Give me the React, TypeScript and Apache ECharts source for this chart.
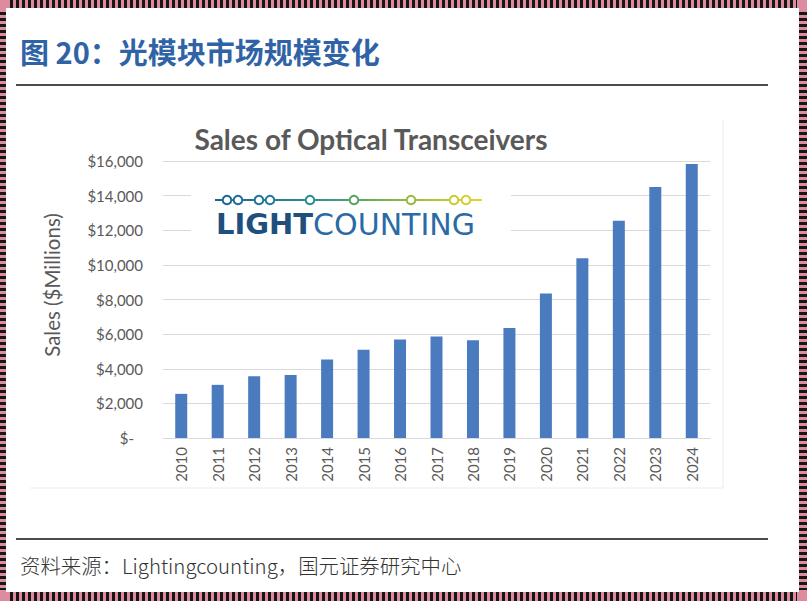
import React, { useEffect, useRef } from "react";
import * as echarts from "echarts";

const years = ["2010","2011","2012","2013","2014","2015","2016","2017","2018","2019","2020","2021","2022","2023","2024"];
const sales = [2550, 3070, 3570, 3640, 4530, 5100, 5690, 5870, 5650, 6350, 8350, 10380, 12550, 14500, 15820];
const yTicks = [0, 2000, 4000, 6000, 8000, 10000, 12000, 14000, 16000];

const headerTitle = "图 20：光模块市场规模变化";
const chartTitle = "Sales of Optical Transceivers";
const yAxisName = "Sales ($Millions)";
const sourceText = "资料来源：Lightingcounting，国元证券研究中心";

const logoDots = [227, 238, 259, 270, 310, 354, 411, 454, 466];

function lerpColor(t: number): string {
  const stops: [number, number[]][] = [
    [0, [27, 100, 150]],
    [0.35, [40, 140, 150]],
    [0.6, [110, 175, 80]],
    [1, [230, 214, 40]],
  ];
  for (let i = 0; i < stops.length - 1; i++) {
    const [a, ca] = stops[i];
    const [b, cb] = stops[i + 1];
    if (t >= a && t <= b) {
      const k = (t - a) / (b - a);
      const c = ca.map((v, j) => Math.round(v + (cb[j] - v) * k));
      return `rgb(${c[0]},${c[1]},${c[2]})`;
    }
  }
  return "rgb(230,214,40)";
}

export default function App() {
  const ref = useRef<HTMLDivElement>(null);
  useEffect(() => {
    if (!ref.current) return;
    const chart = echarts.init(ref.current, null, { renderer: "svg" });
    const pink = "#dd8ca0";
    const dark = "#161616";
    const lineX0 = 215, lineX1 = 482;
    const dots = logoDots.map((x) => ({
      type: "circle",
      z: 21,
      shape: { cx: x, cy: 200, r: 4.3 },
      style: { fill: "#fff", stroke: lerpColor((x - lineX0) / (lineX1 - lineX0)), lineWidth: 2 },
    }));
    chart.setOption({
      animation: false,
      backgroundColor: "#fff",
      title: {
        text: chartTitle,
        left: 366,
        top: 120,
        textAlign: "center",
        textStyle: { fontFamily: "Lato", fontWeight: "bold", fontSize: 28, color: "#595959" },
      },
      grid: { left: 163, right: 97, top: 161, bottom: 163 },
      xAxis: {
        type: "category",
        data: years,
        axisLine: { show: true, lineStyle: { color: "#d9d9d9" } },
        axisTick: { show: false },
        axisLabel: { rotate: 90, margin: 9, fontFamily: "Lato", fontSize: 15, color: "#595959" },
      },
      yAxis: {
        type: "value",
        min: 0,
        max: 16000,
        interval: 2000,
        axisLine: { show: false },
        axisTick: { show: false },
        splitLine: { lineStyle: { color: "#d9d9d9", width: 1 } },
        axisLabel: {
          margin: 20,
          fontFamily: "Lato",
          fontSize: 15,
          color: "#595959",
          formatter: (v: number) =>
            yTicks.indexOf(v) === 0 ? "{z|$-}" : "$" + v.toLocaleString("en-US"),
          rich: { z: { fontFamily: "Lato", fontSize: 15, color: "#595959", padding: [0, 9, 0, 0] } },
        },
      },
      series: [
        {
          type: "bar",
          data: sales,
          barWidth: 12,
          itemStyle: { color: "#4a7bbf" },
        },
      ],
      graphic: [
        // y axis name
        {
          type: "text",
          z: 5,
          x: 52,
          y: 285,
          rotation: Math.PI / 2,
          style: {
            text: yAxisName,
            align: "center",
            verticalAlign: "middle",
            fill: "#595959",
            font: "20.5px Lato",
          },
        },
        // frame of the inner chart image
        { type: "line", z: 1, shape: { x1: 723, y1: 120, x2: 723, y2: 488 }, style: { stroke: "#ececec", lineWidth: 1 } },
        { type: "line", z: 1, shape: { x1: 30, y1: 488, x2: 723, y2: 488 }, style: { stroke: "#ececec", lineWidth: 1 } },
        // logo white background
        { type: "rect", z: 19, shape: { x: 191, y: 182, width: 320, height: 62 }, style: { fill: "#fff" } },
        {
          type: "rect",
          z: 20,
          shape: { x: lineX0, y: 199, width: lineX1 - lineX0, height: 2 },
          style: {
            fill: new echarts.graphic.LinearGradient(0, 0, 1, 0, [
              { offset: 0, color: lerpColor(0) },
              { offset: 0.35, color: lerpColor(0.35) },
              { offset: 0.6, color: lerpColor(0.6) },
              { offset: 1, color: lerpColor(1) },
            ]),
          },
        },
        ...dots,
        {
          type: "text",
          z: 21,
          x: 216,
          y: 224,
          style: {
            text: "{a|LIGHT}{b|COUNTING}",
            verticalAlign: "middle",
            rich: {
              a: { fontFamily: "DejaVu Sans", fontWeight: "bold", fontSize: 29, fill: "#1f4f7d", color: "#1f4f7d" },
              b: { fontFamily: "DejaVu Sans", fontWeight: "normal", fontSize: 30, fill: "#2a6aa6", color: "#2a6aa6" },
            },
          },
        },
        // header
        {
          type: "text",
          z: 30,
          x: 20,
          y: 51,
          style: {
            text: headerTitle,
            verticalAlign: "middle",
            fill: "#2f63a6",
            font: "bold 29px 'Noto Sans CJK SC'",
          },
        },
        { type: "line", z: 30, shape: { x1: 16, y1: 85, x2: 768, y2: 85 }, style: { stroke: "#111", lineWidth: 1.5 } },
        { type: "line", z: 30, shape: { x1: 16, y1: 539, x2: 768, y2: 539 }, style: { stroke: "#111", lineWidth: 1.5 } },
        {
          type: "text",
          z: 30,
          x: 20,
          y: 565,
          style: {
            text: sourceText,
            verticalAlign: "middle",
            fill: "#333",
            font: "300 20.4px 'Noto Sans CJK SC'",
          },
        },
        // decorative border
        { type: "rect", z: 40, shape: { x: 0, y: 0, width: 807, height: 8 }, style: { fill: pink } },
        { type: "rect", z: 40, shape: { x: 0, y: 592, width: 807, height: 9 }, style: { fill: pink } },
        { type: "rect", z: 40, shape: { x: 0, y: 0, width: 6, height: 601 }, style: { fill: pink } },
        { type: "rect", z: 40, shape: { x: 799, y: 0, width: 8, height: 601 }, style: { fill: pink } },
        { type: "line", z: 41, shape: { x1: 10, y1: 4, x2: 797, y2: 4 }, style: { stroke: dark, lineWidth: 8, lineDash: [3, 3] } },
        { type: "line", z: 41, shape: { x1: 10, y1: 596.5, x2: 797, y2: 596.5 }, style: { stroke: dark, lineWidth: 9, lineDash: [3, 3] } },
        { type: "line", z: 41, shape: { x1: 3, y1: 12, x2: 3, y2: 590 }, style: { stroke: dark, lineWidth: 6, lineDash: [3, 3] } },
        { type: "line", z: 41, shape: { x1: 803, y1: 12, x2: 803, y2: 590 }, style: { stroke: dark, lineWidth: 8, lineDash: [3, 3] } },
      ],
    });
    return () => chart.dispose();
  }, []);
  return (
    <div
      ref={ref}
      style={{ position: "fixed", left: 0, top: 0, width: 807, height: 601, background: "#fff" }}
    />
  );
}
